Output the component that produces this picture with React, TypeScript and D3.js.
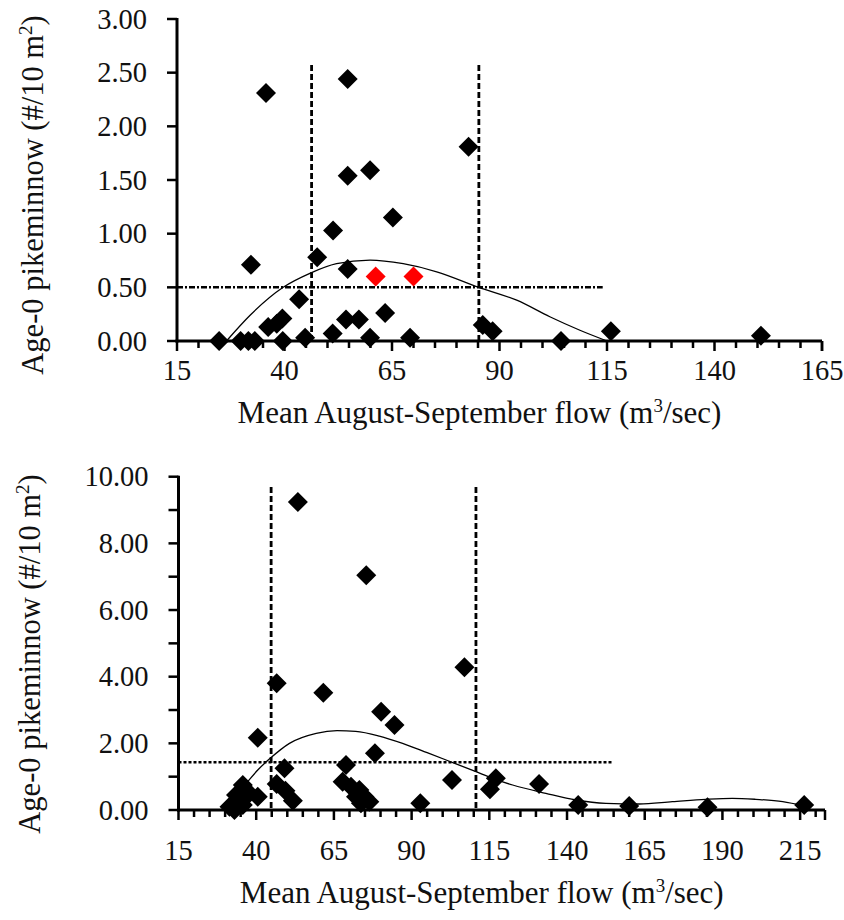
import React from "react";
import * as d3 from "d3";

// ---------- Top panel data ----------
const topFlow = [24.8, 29.8, 31.6, 33.1, 35.7, 32.2, 36.2, 38.2, 39.5, 39.6, 43.4, 44.8, 47.6, 51.2, 51.3, 54.7, 54.7, 54.7, 54.3, 57.3, 59.9, 59.9, 63.4, 65.2, 69.2, 82.8, 86.1, 88.4, 104.3, 115.9, 150.8];
const topDensity = [0.0, 0.0, 0.0, 0.0, 2.31, 0.71, 0.13, 0.16, 0.21, 0.0, 0.39, 0.03, 0.78, 0.07, 1.03, 2.44, 1.54, 0.67, 0.2, 0.2, 1.59, 0.03, 0.26, 1.15, 0.03, 1.81, 0.15, 0.09, 0.0, 0.09, 0.05];
const topRedFlow = [61.2, 70.0];
const topRedDensity = [0.6, 0.6];
const topCurveFlow = [26.5, 32.0, 39.7, 45.9, 52.1, 59.9, 67.6, 75.4, 85.2, 94.0, 101.7, 108.7, 115.0];
const topCurveDensity = [0.0, 0.24, 0.5, 0.63, 0.72, 0.754, 0.72, 0.645, 0.5, 0.38, 0.226, 0.1, 0.0];
const topVLines = [46.3, 85.2];
const topHLine = 0.5;
const topHLineEnd = 114;
const topXTicks = [15, 40, 65, 90, 115, 140, 165];
const topYTicks = [0, 0.5, 1.0, 1.5, 2.0, 2.5, 3.0];

// ---------- Bottom panel data ----------
const botFlow = [31.4, 33.0, 33.5, 35.7, 35.7, 37.8, 40.5, 40.5, 46.6, 46.6, 49.1, 49.4, 51.8, 53.4, 61.6, 67.8, 68.9, 70.5, 72.1, 73.2, 73.7, 74.8, 75.4, 76.4, 78.2, 80.2, 84.5, 92.8, 103.0, 107.0, 115.2, 117.1, 131.0, 143.6, 160.0, 185.2, 216.3];
const botDensity = [0.1, 0.0, 0.45, 0.75, 0.15, 0.5, 0.4, 2.17, 3.8, 0.78, 1.25, 0.58, 0.28, 9.24, 3.52, 0.85, 1.35, 0.7, 0.4, 0.6, 0.2, 0.4, 7.04, 0.25, 1.7, 2.95, 2.55, 0.2, 0.9, 4.28, 0.62, 0.95, 0.78, 0.15, 0.12, 0.08, 0.15];
const botCurveFlow = [32, 36.8, 40.5, 44.5, 50.7, 59.3, 66, 72, 79.6, 87.1, 95, 101.1, 110.7, 116.1, 122.5, 133.2, 142.9, 152.5, 163.2, 173.9, 184.6, 193.2, 200.7, 209.4, 216.3];
const botCurveDensity = [0.3, 0.8, 1.2, 1.55, 2.0, 2.3, 2.38, 2.36, 2.22, 2.0, 1.72, 1.5, 1.15, 0.95, 0.75, 0.5, 0.3, 0.2, 0.18, 0.25, 0.32, 0.35, 0.32, 0.25, 0.12];
const botVLines = [44.8, 110.7];
const botHLine = 1.43;
const botHLineEnd = 154.5;
const botXTicks = [15, 40, 65, 90, 115, 140, 165, 190, 215];
const botYTicks = [0, 2, 4, 6, 8, 10];

const FONT = "Liberation Serif, DejaVu Serif, serif";

type PanelProps = {
  flow: number[];
  density: number[];
  redFlow?: number[];
  redDensity?: number[];
  curveFlow: number[];
  curveDensity: number[];
  vLines: number[];
  vTop: number;
  hLine: number;
  hEnd: number;
  xDomain: [number, number];
  xRange: [number, number];
  yDomain: [number, number];
  yRange: [number, number];
  xTicks: number[];
  yTicks: number[];
  yMinorStep: number;
  yLabelX: number;
  yLabelY: number;
  xTickBaseline: number;
  xTitleBaseline: number;
  hDash: string;
};

function Panel(p: PanelProps) {
  const x = d3.scaleLinear().domain(p.xDomain).range(p.xRange);
  const y = d3.scaleLinear().domain(p.yDomain).range(p.yRange);
  const x0 = p.xRange[0];
  const y0 = p.yRange[0];
  const minorX = d3.range(p.xDomain[0], p.xDomain[1] + 0.001, 5);
  const minorY = d3.range(p.yDomain[0], p.yDomain[1] + 0.001, p.yMinorStep);
  const line = d3
    .line<number>()
    .x((_, i) => x(p.curveFlow[i]))
    .y((d) => y(d))
    .curve(d3.curveMonotoneX);
  const dPath = (cx: number, cy: number) => {
    const r = 10;
    return `M${cx},${cy - r}L${cx + r},${cy}L${cx},${cy + r}L${cx - r},${cy}Z`;
  };
  const fmt = d3.format(".2f");
  return (
    <g style={{ fontFamily: FONT }}>
      {p.vLines.map((v, i) => (
        <line key={"v" + i} x1={x(v)} x2={x(v)} y1={p.vTop} y2={y0} stroke="#000" strokeWidth={2.8} strokeDasharray="6,3" />
      ))}
      <line x1={x0} x2={x(p.hEnd)} y1={y(p.hLine)} y2={y(p.hLine)} stroke="#000" strokeWidth={2.5} strokeDasharray={p.hDash} />
      <path d={line(p.curveDensity) || ""} fill="none" stroke="#000" strokeWidth={1.3} />
      {p.flow.map((f, i) => (
        <path key={"p" + i} d={dPath(x(f), y(p.density[i]))} fill="#000" />
      ))}
      {(p.redFlow || []).map((f, i) => (
        <path key={"r" + i} d={dPath(x(f), y((p.redDensity || [])[i]))} fill="#ff0000" />
      ))}
      <line x1={x0} x2={x0} y1={p.yRange[1] - 1} y2={y0 + 1.5} stroke="#000" strokeWidth={3} />
      <line x1={x0 - 1.5} x2={p.xRange[1]} y1={y0} y2={y0} stroke="#000" strokeWidth={3} />
      {minorX.map((v, i) => {
        const major = p.xTicks.some((t) => Math.abs(t - v) < 0.01);
        return <line key={"xt" + i} x1={x(v)} x2={x(v)} y1={y0} y2={y0 + (major ? 10 : 7)} stroke="#000" strokeWidth={2.5} />;
      })}
      <line x1={p.xRange[1]} x2={p.xRange[1]} y1={y0} y2={y0 + 10} stroke="#000" strokeWidth={2.5} />
      {minorY.map((v, i) => (
        <line key={"yt" + i} x1={x0 - 10} x2={x0} y1={y(v)} y2={y(v)} stroke="#000" strokeWidth={2.5} />
      ))}
      {p.yTicks.map((v, i) => (
        <text key={"yl" + i} x={x0 - 30} y={y(v) + 9.5} textAnchor="end" fontSize={28.5} fontFamily={FONT} fill="#111">
          {fmt(v)}
        </text>
      ))}
      {p.xTicks.map((v, i) => (
        <text key={"xl" + i} x={x(v)} y={p.xTickBaseline} textAnchor="middle" fontSize={28.5} fontFamily={FONT} fill="#111">
          {v}
        </text>
      ))}
      <text x={(x0 + p.xRange[1]) / 2 - 20} y={p.xTitleBaseline} textAnchor="middle" fontSize={31} fontFamily={FONT} fill="#111">
        Mean August-September flow (m<tspan fontSize={19} dy={-11}>3</tspan>
        <tspan dy={11}>/sec)</tspan>
      </text>
      <text
        transform={`translate(${p.yLabelX},${p.yLabelY}) rotate(-90)`}
        textAnchor="middle"
        fontSize={30.5}
        fontFamily={FONT}
        fill="#111"
      >
        Age-0 pikeminnow (#/10 m<tspan fontSize={19} dy={-11}>2</tspan>
        <tspan dy={11}>)</tspan>
      </text>
    </g>
  );
}

export default function App() {
  return (
    <svg width={844} height={920} style={{ position: "absolute", left: 0, top: 0, background: "#fff" }}>
      <rect width={844} height={920} fill="#fff" />
      <Panel
        flow={topFlow}
        density={topDensity}
        redFlow={topRedFlow}
        redDensity={topRedDensity}
        curveFlow={topCurveFlow}
        curveDensity={topCurveDensity}
        vLines={topVLines}
        vTop={65}
        hLine={topHLine}
        hEnd={topHLineEnd}
        xDomain={[15, 165]}
        xRange={[177, 822]}
        yDomain={[0, 3]}
        yRange={[341, 19]}
        xTicks={topXTicks}
        yTicks={topYTicks}
        yMinorStep={0.5}
        yLabelX={43}
        yLabelY={195}
        xTickBaseline={380}
        xTitleBaseline={423}
        hDash="6,2,2,2"
      />
      <Panel
        flow={botFlow}
        density={botDensity}
        curveFlow={botCurveFlow}
        curveDensity={botCurveDensity}
        vLines={botVLines}
        vTop={487}
        hLine={botHLine}
        hEnd={botHLineEnd}
        xDomain={[15, 223]}
        xRange={[178.5, 825]}
        yDomain={[0, 10]}
        yRange={[810, 476.7]}
        xTicks={botXTicks}
        yTicks={botYTicks}
        yMinorStep={1}
        yLabelX={40}
        yLabelY={654}
        xTickBaseline={860}
        xTitleBaseline={903}
        hDash="3,2"
      />
    </svg>
  );
}
